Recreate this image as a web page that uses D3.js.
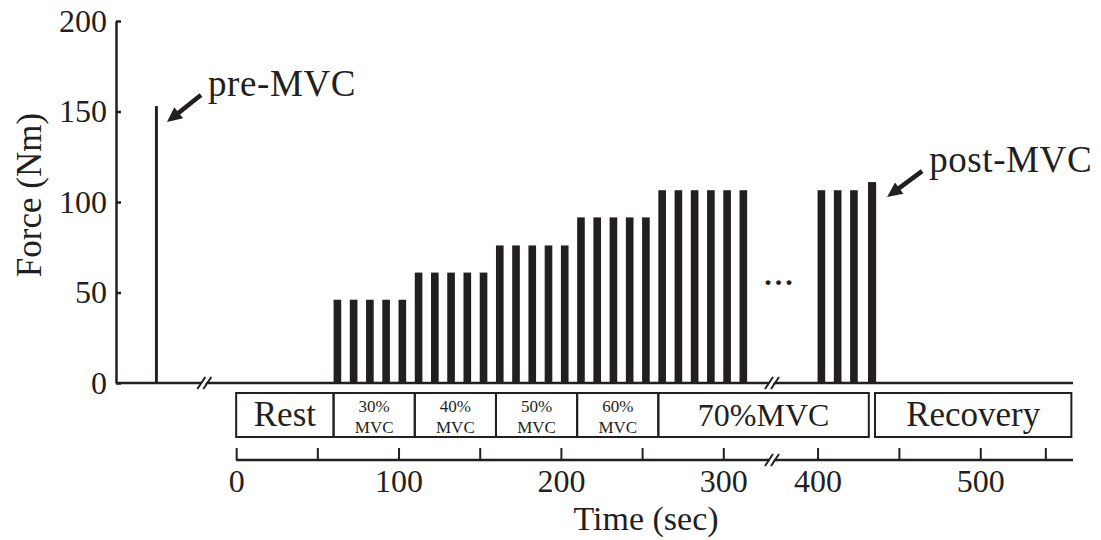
<!DOCTYPE html>
<html>
<head>
<meta charset="utf-8">
<script src="https://cdn.jsdelivr.net/npm/d3@7"></script>
<style>
  html, body { margin: 0; padding: 0; background: #fff; }
  svg { display: block; }
  text { font-family: "Liberation Serif", "Times New Roman", serif; fill: #231f20; }
</style>
</head>
<body>
<script>
// ---------------- data ----------------
const yTicks = [0, 50, 100, 150, 200];
const timeTicks = [0, 50, 100, 150, 200, 250, 300, 400, 450, 500, 540];
const timeTickLabels = [0, 100, 200, 300, 400, 500];

// contraction onsets (s) and forces (Nm)
const barTimes = [60, 70, 80, 90, 100,
                  110, 120, 130, 140, 150,
                  160, 170, 180, 190, 200,
                  210, 220, 230, 240, 250,
                  260, 270, 280, 290, 300, 310,
                  400, 410, 420];
const barForces = [46, 46, 46, 46, 46,
                   61, 61, 61, 61, 61,
                   76, 76, 76, 76, 76,
                   91.5, 91.5, 91.5, 91.5, 91.5,
                   106.5, 106.5, 106.5, 106.5, 106.5, 106.5,
                   106.5, 106.5, 106.5];
const contractionDuration = 4.7;

const preMVC = { time: -50, force: 153, duration: 1.8, label: "pre-MVC" };
const postMVC = { time: 431, force: 111, duration: 5, label: "post-MVC" };

const stageLabels = [["Rest"], ["30%", "MVC"], ["40%", "MVC"], ["50%", "MVC"], ["60%", "MVC"], ["70%MVC"], ["Recovery"]];
const stageStart = [0, 60, 110, 160, 210, 260, 435.3];
const stageEnd = [60, 110, 160, 210, 260, 431.5, 556];

// time axis with a gap (330 – 372 s) and a compressed pre-test region
const timeDomain = [-74, 330, 372, 557];
const preBreakTime = -19;

// ---------------- layout ----------------
const W = 1101, H = 540;
const ink = "#231f20";
const svg = d3.select("body").append("svg").attr("width", W).attr("height", H);
svg.append("rect").attr("width", W).attr("height", H).attr("fill", "#fff");

const x = d3.scaleLinear().domain(timeDomain).range([116, 772, 772, 1073]);
const y = d3.scaleLinear().domain([0, 200]).range([383, 21]);

// bars
svg.append("g").selectAll("rect").data(barTimes).join("rect")
  .attr("x", d => x(d))
  .attr("width", d => x(d + contractionDuration) - x(d))
  .attr("y", (d, i) => y(barForces[i]))
  .attr("height", (d, i) => y(0) - y(barForces[i]))
  .attr("fill", ink);

// MVC bars
[preMVC, postMVC].forEach(m => {
  svg.append("rect")
    .attr("x", x(m.time))
    .attr("width", x(m.time + m.duration) - x(m.time))
    .attr("y", y(m.force))
    .attr("height", y(0) - y(m.force))
    .attr("fill", ink);
});

// top baseline
svg.append("line")
  .attr("x1", x.range()[0]).attr("x2", x.range()[3])
  .attr("y1", y(0)).attr("y2", y(0))
  .attr("stroke", ink).attr("stroke-width", 2.5);

// y axis
const yAxis = d3.axisLeft(y).tickValues(yTicks).tickSizeInner(-5).tickSizeOuter(0).tickPadding(9);
const gy = svg.append("g").attr("transform", `translate(${x.range()[0]},0)`).call(yAxis);
gy.select(".domain").attr("stroke", ink).attr("stroke-width", 2.5);
gy.selectAll(".tick line").attr("stroke", ink).attr("stroke-width", 2.5);
gy.selectAll(".tick text").attr("font-size", 32).attr("fill", ink)
  .style("font-family", '"Liberation Serif", "Times New Roman", serif');

// break marks
function breakMark(cx, cy) {
  const g = svg.append("g").attr("transform", `translate(${cx},${cy})`);
  g.append("polygon").attr("points", "-7,5 1,-6 5,-6 -3,5").attr("fill", "#fff");
  g.append("line").attr("x1", -8).attr("y1", 6).attr("x2", 0).attr("y2", -6).attr("stroke", ink).attr("stroke-width", 2);
  g.append("line").attr("x1", -2).attr("y1", 6).attr("x2", 6).attr("y2", -6).attr("stroke", ink).attr("stroke-width", 2);
}
breakMark(x(preBreakTime), y(0));
breakMark(x(timeDomain[1]) + 1, y(0));

// ellipsis in the gap
svg.append("text")
  .attr("x", x(timeDomain[1]) + 8).attr("y", 285)
  .attr("text-anchor", "middle")
  .attr("font-size", 30).attr("font-weight", "bold")
  .attr("letter-spacing", 3)
  .text("...");

// annotations with arrows
function arrow(x0, y0, x1, y1) {
  const dx = x1 - x0, dy = y1 - y0, L = Math.hypot(dx, dy);
  const ux = dx / L, uy = dy / L, px = -uy, py = ux;
  const head = 15, hw = 7, sw = 2.3;
  const bx = x1 - ux * head, by = y1 - uy * head;
  const pts = [
    [x0 + px * sw, y0 + py * sw],
    [bx + px * sw, by + py * sw],
    [bx + px * hw, by + py * hw],
    [x1, y1],
    [bx - px * hw, by - py * hw],
    [bx - px * sw, by - py * sw],
    [x0 - px * sw, y0 - py * sw]
  ];
  svg.append("polygon").attr("points", pts.map(p => p.join(",")).join(" ")).attr("fill", ink);
}
{
  const bx = x(preMVC.time), by = y(preMVC.force);
  arrow(bx + 46, by - 11, bx + 12, by + 16);
  svg.append("text").attr("x", bx + 53).attr("y", by - 10)
    .attr("font-size", 37).attr("letter-spacing", 0.6).text(preMVC.label);
}
{
  const bx = x(postMVC.time + postMVC.duration), by = y(postMVC.force);
  arrow(bx + 46, by - 11, bx + 11, by + 15);
  svg.append("text").attr("x", bx + 53).attr("y", by - 10)
    .attr("font-size", 37).attr("letter-spacing", 0.6).text(postMVC.label);
}

// y axis title
svg.append("text")
  .attr("transform", `translate(41,195) rotate(-90)`)
  .attr("text-anchor", "middle")
  .attr("font-size", 35)
  .text("Force (Nm)");

// protocol boxes
const boxTop = 393, boxBottom = 437;
const gb = svg.append("g");
stageLabels.forEach((lab, i) => {
  const x0 = x(stageStart[i]), x1 = x(stageEnd[i]);
  gb.append("rect").attr("x", x0).attr("y", boxTop)
    .attr("width", x1 - x0).attr("height", boxBottom - boxTop)
    .attr("fill", "none").attr("stroke", ink).attr("stroke-width", 2);
  const cx = (x0 + x1) / 2;
  if (lab.length === 2) {
    const t = gb.append("text").attr("text-anchor", "middle").attr("font-size", 17);
    t.append("tspan").attr("x", cx).attr("y", 412).text(lab[0]);
    t.append("tspan").attr("x", cx).attr("y", 433).text(lab[1]);
  } else {
    const fs = lab[0] === "70%MVC" ? 32 : 35;
    gb.append("text").attr("x", cx).attr("y", 426).attr("text-anchor", "middle")
      .attr("font-size", fs).text(lab[0]);
  }
});

// time axis
const axisY = 460;
const xAxis = d3.axisBottom(x).tickValues(timeTicks).tickSizeInner(-12).tickSizeOuter(0).tickPadding(9)
  .tickFormat(d => timeTickLabels.includes(d) ? d : "");
const gx = svg.append("g").attr("transform", `translate(0,${axisY})`).call(xAxis);
gx.select(".domain").remove();
gx.selectAll(".tick line").attr("stroke", ink).attr("stroke-width", 2);
gx.selectAll(".tick text").attr("font-size", 32).attr("fill", ink)
  .style("font-family", '"Liberation Serif", "Times New Roman", serif');
svg.append("line")
  .attr("x1", x(0)).attr("x2", x.range()[3])
  .attr("y1", axisY).attr("y2", axisY)
  .attr("stroke", ink).attr("stroke-width", 2.5);
breakMark(x(timeDomain[1]) + 1, axisY);

svg.append("text")
  .attr("x", 646).attr("y", 530)
  .attr("text-anchor", "middle")
  .attr("font-size", 34)
  .text("Time (sec)");
</script>
</body>
</html>
